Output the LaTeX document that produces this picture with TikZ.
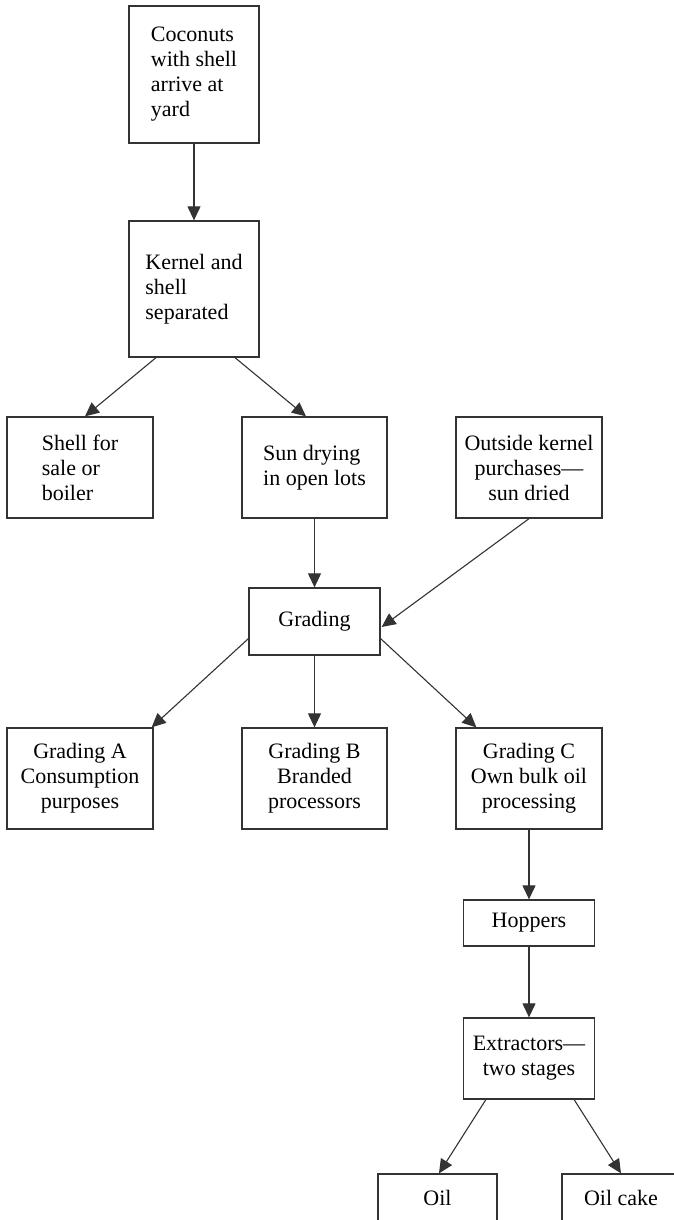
\documentclass[tikz,border=0pt]{standalone}
\usepackage{fontspec}
\setmainfont{Liberation Serif}
\usetikzlibrary{arrows.meta,calc}
\definecolor{linec}{HTML}{333333}
\begin{document}
\begin{tikzpicture}[x=1pt,y=-1pt,
  box/.style={draw=linec, line width=1.3pt, inner sep=0pt, align=center,
    font=\fontsize{22}{25}\selectfont},
  lbox/.style={box, align=left},
  flow/.style={draw=linec, line width=1.1pt, -{Triangle[length=14pt,width=13pt]}}]
\useasboundingbox (0,0) rectangle (674,1220);
\clip (0,0) rectangle (674,1220);

% top chain
\node[lbox, minimum width=130pt, minimum height=137pt] (coco) at (194,74.5)
  {Coconuts\\with shell\\arrive at\\yard};
\node[lbox, minimum width=130pt, minimum height=136pt] (kern) at (194,289)
  {Kernel and\\shell\\separated};

% second row
\node[lbox, minimum width=146pt, minimum height=101pt] (shell) at (80,467.5)
  {Shell for\\sale or\\boiler};
\node[lbox, minimum width=145pt, minimum height=101pt] (sun) at (314.5,467.5)
  {Sun drying\\in open lots};
\node[box, minimum width=146pt, minimum height=101pt] (outs) at (529,467.5)
  {Outside kernel\\purchases---\\sun dried};

% grading
\node[box, minimum width=131pt, minimum height=67pt] (grad) at (314.5,621.5) {Grading};

% grade classes
\node[box, minimum width=146pt, minimum height=101pt] (ga) at (80,778.5)
  {Grading A\\Consumption\\purposes};
\node[box, minimum width=145pt, minimum height=101pt] (gb) at (314.5,778.5)
  {Grading B\\Branded\\processors};
\node[box, minimum width=146pt, minimum height=101pt] (gc) at (529,778.5)
  {Grading C\\Own bulk oil\\processing};

% oil processing
\node[box, minimum width=131pt, minimum height=46pt] (hop) at (529,923) {Hoppers};
\node[box, minimum width=131pt, minimum height=81pt] (ext) at (529,1058.5)
  {Extractors---\\two stages};
\node[box, minimum width=119pt, minimum height=48pt] (oil) at (437.5,1198) {Oil};
\node[box, minimum width=118pt, minimum height=48pt] (cake) at (621,1198) {Oil cake};

% connectors
\draw[flow] (coco.south) -- (kern.north);
\draw[flow] ($(kern.south)+(-38,0)$) -- ($(shell.north)+(5,0)$);
\draw[flow] ($(kern.south)+(41,0)$) -- ($(sun.north)+(-8.5,0)$);
\draw[flow] (sun.south) -- (grad.north);
\draw[flow] (outs.south) -- ($(grad.east)+(1,5.5)$);
\draw[flow] ($(grad.south west)+(0,-17)$) -- ($(ga.north east)+(-2,0)$);
\draw[flow] (grad.south) -- (gb.north);
\draw[flow] ($(grad.south east)+(0,-17)$) -- ($(gc.north west)+(21,0)$);
\draw[flow] (gc.south) -- (hop.north);
\draw[flow] (hop.south) -- (ext.north);
\draw[flow] ($(ext.south west)+(23,0)$) -- ($(oil.north)+(1.5,0)$);
\draw[flow] ($(ext.south east)+(-21,0)$) -- (cake.north);
\end{tikzpicture}
\end{document}
